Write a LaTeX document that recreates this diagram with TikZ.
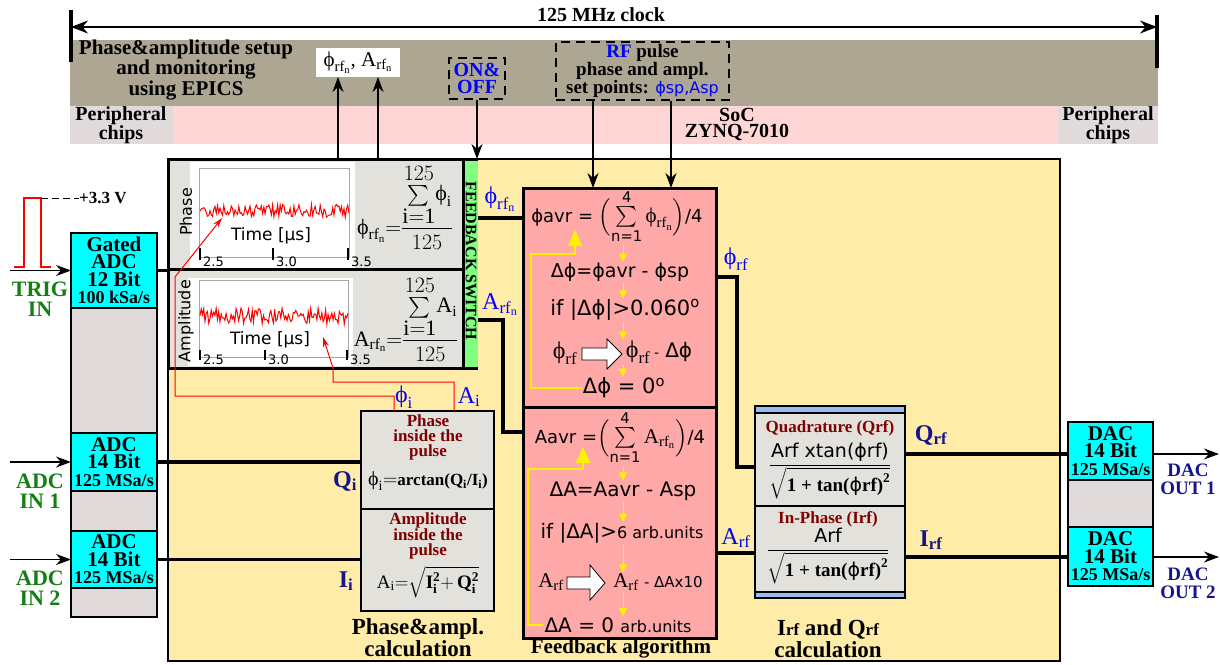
\RequirePackage{fix-cm}
\documentclass[tikz,border=0pt]{standalone}
\usepackage{amsmath}
\usepackage{fontspec}
\setmainfont{Liberation Serif}
\newfontfamily\dv{DejaVu Sans}
\usetikzlibrary{arrows.meta}
\newcommand\fsz[2]{\fontsize{#1}{#2}\selectfont}
\newcommand\sph{\textrm{ϕ}}
\newcommand\rfn{\mathrm{rf}_{\mathrm{n}}}
\definecolor{taupe}{RGB}{172,166,147}
\definecolor{bandpink}{RGB}{255,214,214}
\definecolor{perigray}{RGB}{224,218,219}
\definecolor{socyellow}{RGB}{255,236,168}
\definecolor{boxgray}{RGB}{226,225,219}
\definecolor{fbpink}{RGB}{255,168,168}
\definecolor{swgreen}{RGB}{128,255,128}
\definecolor{iqblue}{RGB}{153,187,238}
\definecolor{dred}{RGB}{128,0,0}
\definecolor{dblue}{RGB}{20,20,140}
\definecolor{lgreen}{RGB}{20,128,20}
\definecolor{cyanbox}{RGB}{0,255,255}
\tikzset{
  band/.style={anchor=north west, inner sep=0pt, outer sep=0pt, draw=none},
  blk/.style={anchor=north west, inner sep=0pt, outer sep=0pt, draw=black, line width=2pt},
  thk/.style={line width=3.2pt},
  arr/.style={line width=1.3pt, -{Stealth[length=15pt,width=11pt]}},
  rarr/.style={draw=red, line width=1pt, -{Stealth[length=10pt,width=6pt]}},
  yarr/.style={draw=yellow, line width=1pt, -{Triangle[length=8pt,width=8pt]}},
  yloop/.style={draw=yellow, line width=1.4pt, -{Triangle[length=16pt,width=14pt]}},
  bt/.style={font=\bfseries\fsz{20}{17}, align=center, inner sep=0pt},
  dvt/.style={font=\dv\fsz{19}{20}, inner sep=1pt},
  lbl/.style={text=blue, font=\fsz{24}{24}, inner sep=0pt},
  dbl/.style={text=dblue, font=\bfseries\fsz{24}{24}, inner sep=0pt},
  grn/.style={text=lgreen, font=\bfseries\fsz{22}{20}, align=center, inner sep=0pt},
  redt/.style={text=dred, font=\bfseries\fsz{17}{15}, align=center, inner sep=0pt},
  tick/.style={line width=2.5pt},
  ticklbl/.style={font=\dv\fsz{13}{13}, anchor=west, inner sep=0pt},
  dashbox/.style={anchor=north west, inner sep=0pt, draw=black, line width=2pt, dash pattern=on 9pt off 6pt},
  blockarr/.style={fill=white, draw=black, line width=0.8pt},
  adct/.style={align=center, font=\bfseries\fsz{21}{17.5}},
}
\begin{document}
\begin{tikzpicture}[x=1pt,y=-1pt]
\useasboundingbox (0,0) rectangle (1220,664);

% ---------- bands
\node[band, fill=taupe, minimum width=1088pt, minimum height=66pt] (socband) at (70,40) {};
\node[band, fill=bandpink, minimum width=885pt, minimum height=38pt] (pinkband) at (173,106) {};
\node[band, fill=perigray, minimum width=103pt, minimum height=38pt] (per1) at (70,106) {};
\node[band, fill=perigray, minimum width=100pt, minimum height=38pt] (per2) at (1058,106) {};
\node[bt, font=\bfseries\fsz{20}{16}] (per1t) at (121,125) {Peripheral\\chips};
\node[bt, font=\bfseries\fsz{20}{16}] (per2t) at (1108,125) {Peripheral\\chips};
\node[bt, font=\bfseries\fsz{20}{16}] (soct) at (737,124) {SoC\\ZYNQ-7010};
\node[bt, font=\bfseries\fsz{21}{18}] (epics) at (186,70) {Phase\&amplitude setup\\and monitoring\\using EPICS};

% ---------- clock
\coordinate (clkL) at (71,27);
\coordinate (clkR) at (1157,27);
\draw[line width=3.5pt] (71,10) -- (71,62);
\draw[line width=3.5pt] (1157,15) -- (1157,68);
\draw[line width=1.2pt, {Stealth[length=17pt,width=13pt]}-{Stealth[length=17pt,width=13pt]}] (clkL) -- (clkR);
\node[font=\bfseries\fsz{20}{20}, inner sep=0pt] (clk) at (601,15) {125 MHz clock};

% ---------- top boxes
\node[band, fill=white, minimum width=84pt, minimum height=29pt] (mon) at (316,48) {};
\node[font=\fsz{21}{21}, inner sep=0pt] (mont) at (mon.center) {$\sph_{\rfn}$, $\mathrm{A}_{\rfn}$};
\node[dashbox, minimum width=56pt, minimum height=41pt] (onoff) at (448,57) {};
\node[bt, text=blue, font=\bfseries\fsz{20}{17}] (onofft) at (onoff.center) {ON\&\\OFF};
\node[dashbox, minimum width=173pt, minimum height=58pt] (rf) at (555,41) {};
\node[bt, font=\bfseries\fsz{19}{18}] (rft) at (rf.center) {{\color{blue}RF} pulse\\phase and ampl.\\set points: {\mdseries\dv\fsz{16}{18}\color{blue}ϕsp,Asp}};

% ---------- main SoC box
\node[blk, fill=socyellow, minimum width=892pt, minimum height=502pt] (main) at (168,159) {};

% ---------- ADC column
\node[blk, fill=perigray, minimum width=86pt, minimum height=384pt] (adccol) at (71,233) {};
\node[blk, fill=cyanbox, minimum width=86pt, minimum height=75pt, adct] (gadc) at (71,233) {Gated\\ADC\\12 Bit\\{\fsz{18}{17.5}100 kSa/s}};
\node[blk, fill=cyanbox, minimum width=86pt, minimum height=58pt, adct] (adc1) at (71,433) {ADC\\14 Bit\\{\fsz{18}{17.5}125 MSa/s}};
\node[blk, fill=cyanbox, minimum width=86pt, minimum height=57pt, adct] (adc2) at (71,531) {ADC\\14 Bit\\{\fsz{18}{17.5}125 MSa/s}};

% trigger pulse
\draw[red, line width=2.5pt] (14,267) -- (24,267) -- (24,198) -- (41,198) -- (41,267) -- (51,267);
\node[font=\bfseries\fsz{17}{17}, anchor=west, inner sep=0pt] (v33) at (79,198) {+3.3 V};
\draw[line width=1pt, dash pattern=on 7pt off 4pt] (41,198) -- (v33.west);

\draw[arr] (gadc.west -| 10,0) -- (gadc.west);
\draw[arr] (adc1.west -| 10,0) -- (adc1.west);
\draw[arr] (adc2.west -| 10,0) -- (adc2.west);
\node[grn] (trig) at (40,299) {TRIG\\IN};
\node[grn] (in1) at (40,491) {ADC\\IN 1};
\node[grn] (in2) at (40,588) {ADC\\IN 2};

% ---------- plot boxes + switch
\node[band, fill=swgreen, minimum width=15pt, minimum height=209pt] (sw) at (463,159) {};
\node[rotate=-90, font=\bfseries\fsz{16}{16}, inner sep=0pt] (swt) at (471,261) {FEEDBACK SWITCH};
\node[blk, fill=boxgray, line width=3pt, minimum width=295pt, minimum height=110pt] (phbox) at (168,159) {};
\node[blk, fill=boxgray, line width=3pt, minimum width=295pt, minimum height=99pt] (ambox) at (168,269) {};
\draw[line width=3pt] (phbox.north east) -- (sw.north east);
\draw[line width=3pt] (ambox.south east) -- (sw.south east);

% phase plot
\node[band, fill=white, minimum width=165pt, minimum height=106pt] (phw) at (190,162) {};
\node[band, draw=gray!70, line width=0.6pt, minimum width=150pt, minimum height=89pt] (php) at (199,168) {};
\pgfmathsetseed{11}
\draw[red, line width=1pt] plot[domain=200:349, samples=120, variable=\t] (\t,{211+6.5*rand});
\node[rotate=90, font=\dv\fsz{16}{16}, inner sep=0pt] (phl) at (186,212) {Phase};
\node[font=\dv\fsz{17}{17}, inner sep=0pt] (pht) at (271,236) {Time [μs]};
\draw[tick] (200,248) -- (200,260); \node[ticklbl] (p25) at (203,262) {2.5};
\draw[tick] (273,248) -- (273,260); \node[ticklbl] (p30) at (276,262) {3.0};
\draw[tick] (348,248) -- (348,260); \node[ticklbl] (p35) at (351,262) {3.5};

% amplitude plot
\node[band, fill=white, minimum width=165pt, minimum height=88pt] (amw) at (188,278) {};
\node[band, draw=gray!70, line width=0.6pt, minimum width=149pt, minimum height=77pt] (amp) at (199,280) {};
\pgfmathsetseed{5}
\draw[red, line width=1pt] plot[domain=200:348, samples=120, variable=\t] (\t,{316+8*rand});
\node[rotate=90, font=\dv\fsz{16}{16}, inner sep=0pt] (aml) at (186,321) {Amplitude};
\node[font=\dv\fsz{17}{17}, inner sep=0pt] (amt) at (270,340) {Time [μs]};
\draw[tick] (200,350) -- (200,360); \node[ticklbl] (a25) at (203,360) {2.5};
\draw[tick] (265,350) -- (265,360); \node[ticklbl] (a30) at (268,360) {3.0};
\draw[tick] (347,350) -- (347,360); \node[ticklbl] (a35) at (350,360) {3.5};

% formulas
\node[inner sep=0pt, font=\fsz{22}{22}] (phf) at (405,207) {$\sph_{\rfn}{=}\dfrac{\mathop{\textstyle\sum}\limits^{\textstyle 125}_{\textstyle\mathrm{i{=}1}}\!\sph_{\mathrm{i}}}{125}$};
\node[inner sep=0pt, font=\fsz{22}{22}] (amf) at (406,319) {$\mathrm{A}_{\rfn}{=}\dfrac{\mathop{\textstyle\sum}\limits^{\textstyle 125}_{\textstyle\mathrm{i{=}1}}\!\mathrm{A}_{\mathrm{i}}}{125}$};

% ---------- phase & amplitude calculation
\node[blk, fill=boxgray, line width=2.5pt, minimum width=133pt, minimum height=98pt] (pc1) at (361,411) {};
\node[blk, fill=boxgray, line width=2.5pt, minimum width=133pt, minimum height=102pt] (pc2) at (361,509) {};
\node[redt] (pc1t) at (428,437) {Phase\\inside the\\pulse};
\node[inner sep=0pt, font=\fsz{20}{20}] (pc1f) at (428,481) {$\sph_{\mathrm{i}}{=}$\textbf{\fsz{17}{17}arctan(Q$_{\mathbf{i}}$/I$_{\mathbf{i}}$)}};
\node[redt] (pc2t) at (428,536) {Amplitude\\inside the\\pulse};
\node[inner sep=0pt, font=\fsz{19}{19}] (pc2f) at (428,582) {$\mathrm{A}_{\mathrm{i}}{=}\sqrt{\mathbf{I}_{\mathbf{i}}^{\mathbf{2}}\mathbf{+}\,\mathbf{Q}_{\mathbf{i}}^{\mathbf{2}}}$};
\node[bt, font=\bfseries\fsz{23}{22}] (pct) at (418,638) {Phase\&ampl.\\calculation};

\draw[thk] (gadc.east) -- (gadc.east -| main.west);
\draw[thk] (adc1.east) -- (adc1.east -| pc1.west);
\draw[thk] (adc2.east) -- (adc2.east -| pc2.west);
\node[dbl] (qi) at (345,481) {Q$_{\mathbf{i}}$};
\node[dbl] (ii) at (346,581) {I$_{\mathbf{i}}$};

% red links
\coordinate (phtip) at (222,218);
\coordinate (amtip) at (323,337);
\draw[rarr] (pc1.north -| 394,0) |- (175,396) -- (175,277) -- (phtip);
\draw[rarr] (pc1.north -| 454,0) |- (333,382) -- (333,368) -- (amtip);
\node[lbl] (phil) at (404,397) {$\sph_{\mathrm{i}}$};
\node[lbl] (ail) at (469,397) {$\mathrm{A}_{\mathrm{i}}$};

% ---------- feedback algorithm
\node[blk, fill=fbpink, line width=3pt, minimum width=193pt, minimum height=219pt] (fb1) at (523,188) {};
\node[blk, fill=fbpink, line width=3pt, minimum width=193pt, minimum height=231pt] (fb2) at (523,407) {};
\node[bt, font=\bfseries\fsz{21}{21}] (fbt) at (621,649) {Feedback algorithm};

\node[dvt, font=\dv\fsz{18}{20}] (t1) at (617,217) {ϕavr = {\fsz{21}{21}$\Bigl(\mathop{\textstyle\sum}\limits_{\text{n=1}}^{\text{4}}\sph_{\rfn}\Bigr)$}/4};
\node[dvt] (t2) at (620,272) {Δϕ=ϕavr - ϕsp};
\node[dvt, font=\dv\fsz{21}{20}] (t3) at (625,310) {if |Δϕ|>0.060\textsuperscript{o}};
\node[inner sep=1pt, font=\fsz{24}{24}] (t4a) at (565,353) {$\sph_{\mathrm{rf}}$};
\node[inner sep=1pt, font=\fsz{24}{24}] (t4b) at (659,352) {$\sph_{\mathrm{rf}}$\,{\dv\fsz{14}{14}-} {\dv\fsz{20}{20}Δϕ}};
\node[dvt, font=\dv\fsz{21}{20}] (t5) at (624,388) {Δϕ = 0\textsuperscript{o}};

\node[dvt, font=\dv\fsz{18}{20}] (t6) at (620,438) {Aavr ={\fsz{21}{21}$\Bigl(\mathop{\textstyle\sum}\limits_{\text{n=1}}^{\text{4}}\mathrm{A}_{\rfn}\Bigr)$}/4};
\node[dvt, font=\dv\fsz{20}{20}] (t7) at (623,491) {ΔA=Aavr - Asp};
\node[dvt, font=\dv\fsz{20}{20}] (t8) at (622,533) {if |ΔA|>{\fsz{16}{16}6 arb.units}};
\node[inner sep=1pt, font=\fsz{21}{21}] (t9a) at (551,582) {$\mathrm{A}_{\mathrm{rf}}$};
\node[inner sep=1pt, font=\fsz{21}{21}] (t9b) at (658,582) {$\mathrm{A}_{\mathrm{rf}}$ {\dv\fsz{15}{15}- ΔAx10}};
\node[dvt, font=\dv\fsz{20}{20}] (t10) at (618,625) {ΔA = 0 {\fsz{16}{16}arb.units}};

% block arrows
\filldraw[blockarr] (582,348) -- (607,348) -- (607,339) -- (622,354) -- (607,369) -- (607,360) -- (582,360) -- cycle;
\filldraw[blockarr] (567,577) -- (590,577) -- (590,565) -- (605,583) -- (590,600) -- (590,589) -- (567,589) -- cycle;

% yellow flow arrows
\coordinate (ya) at (623,0);
\draw[yarr] (t1.south -| ya) -- (t2.north -| ya);
\draw[yarr] (t2.south -| ya) -- (t3.north -| ya);
\draw[yarr] (t3.south -| ya) -- (t4b.north -| ya);
\draw[yarr] (t4b.south -| ya) -- (t5.north -| ya);
\draw[yarr] (t6.south -| ya) -- (t7.north -| ya);
\draw[yarr] (t7.south -| ya) -- (t8.north -| ya);
\draw[yarr] (t8.south -| ya) -- (t9b.north -| ya);
\draw[yarr] (t9b.south -| ya) -- (t10.north -| ya);
\draw[yloop] (t5.west) -| (531,254) -| (575,230);
\draw[yloop] (t10.west) -| (528,469) -| (583,447);

% ---------- inputs to feedback
\draw[arr] (onoff.south) -- (onoff.south |- main.north);
\draw[arr] (main.north -| 338,0) -- (mon.south -| 338,0);
\draw[arr] (main.north -| 378,0) -- (mon.south -| 378,0);
\draw[arr] (rf.south -| 593,0) -- (fb1.north -| 593,0);
\draw[arr] (rf.south -| 671,0) -- (fb1.north -| 671,0);

\draw[thk] (sw.east |- 0,218) -- (fb1.west |- 0,218);
\draw[thk] (sw.east |- 0,320) -| (503,432) -- (fb2.west |- 0,432);
\node[lbl] (phrfn) at (500,199) {$\sph_{\rfn}$};
\node[lbl] (arfn) at (500,305) {$\mathrm{A}_{\rfn}$};

% ---------- I/Q calculation
\node[blk, fill=iqblue, line width=2.5pt, minimum width=150pt, minimum height=192pt] (iq) at (755,406) {};
\node[blk, fill=boxgray, minimum width=150pt, minimum height=93pt] (iqq) at (755,413) {};
\node[blk, fill=boxgray, minimum width=150pt, minimum height=86pt] (iqi) at (755,506) {};
\node[text=dred, font=\bfseries\fsz{17}{17}, inner sep=0pt] (iqqt) at (830,428) {Quadrature (Qrf)};
\node[inner sep=0pt, font=\fsz{19}{19}] (iqqf) at (830,471) {$\dfrac{\text{\dv Arf xtan(ϕrf)}}{\sqrt{\textbf{1 + tan(}\text{\dv ϕ}\textbf{rf)}^{\mathbf{2}}}}$};
\node[text=dred, font=\bfseries\fsz{17}{17}, inner sep=0pt] (iqit) at (828,519) {In-Phase (Irf)};
\node[inner sep=0pt, font=\fsz{19}{19}] (iqif) at (828,556) {$\dfrac{\text{\dv Arf}}{\sqrt{\textbf{1 + tan(}\text{\dv ϕ}\textbf{rf)}^{\mathbf{2}}}}$};
\node[bt, font=\bfseries\fsz{23}{22}] (iqt) at (828,639) {I{\fsz{17}{17}rf} and Q{\fsz{17}{17}rf}\\calculation};

\draw[thk] (fb1.east |- 0,277) -| (737,467) -- (iqq.west |- 0,467);
\draw[thk] (fb2.east |- 0,553) -- (iqi.west |- 0,553);
\node[lbl] (phrf) at (736,259) {$\sph_{\mathrm{rf}}$};
\node[lbl] (arf) at (736,538) {$\mathrm{A}_{\mathrm{rf}}$};

% ---------- DAC column
\node[blk, fill=perigray, minimum width=85pt, minimum height=164pt] (daccol) at (1068,422) {};
\node[blk, fill=cyanbox, minimum width=85pt, minimum height=58pt, adct] (dac1) at (1068,422) {DAC\\14 Bit\\{\fsz{18}{17.5}125 MSa/s}};
\node[blk, fill=cyanbox, minimum width=85pt, minimum height=59pt, adct] (dac2) at (1068,527) {DAC\\14 Bit\\{\fsz{18}{17.5}125 MSa/s}};

\draw[thk] (iqq.east |- 0,454) -- (dac1.west |- 0,454);
\draw[thk] (iqi.east |- 0,557) -- (dac2.west |- 0,557);
\node[dbl] (qrf) at (931,435) {Q$_{\mathbf{rf}}$};
\node[dbl] (irf) at (931,540) {I$_{\mathbf{rf}}$};

\coordinate (out1) at (1219,454);
\coordinate (out2) at (1219,557);
\draw[arr] (dac1.east |- out1) -- (out1);
\draw[arr] (dac2.east |- out2) -- (out2);
\node[text=dblue, font=\bfseries\fsz{19}{18}, align=center, inner sep=0pt] (do1) at (1188,479) {DAC\\OUT 1};
\node[text=dblue, font=\bfseries\fsz{19}{18}, align=center, inner sep=0pt] (do2) at (1188,583) {DAC\\OUT 2};
\end{tikzpicture}
\end{document}
